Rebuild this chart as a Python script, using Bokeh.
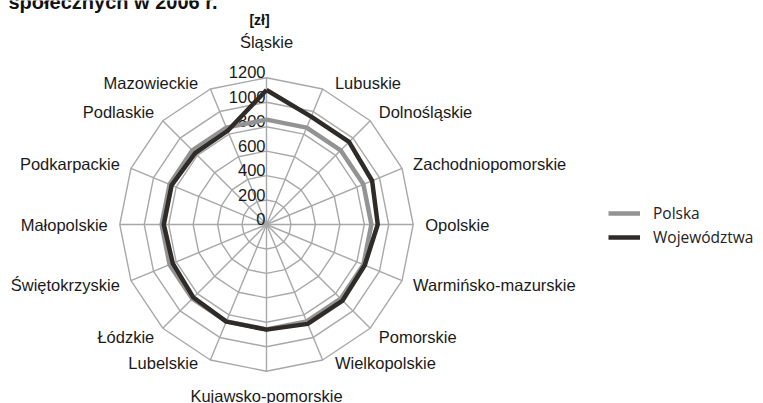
import numpy as np
from bokeh.plotting import figure
from bokeh.models import Range1d, Legend, LegendItem
from bokeh.core.properties import value
from bokeh.embed import file_html
from bokeh.resources import INLINE

# ---------------- data ----------------
categories = ["Śląskie", "Lubuskie", "Dolnośląskie", "Zachodniopomorskie", "Opolskie",
              "Warmińsko-mazurskie", "Pomorskie", "Wielkopolskie", "Kujawsko-pomorskie",
              "Lubelskie", "Łódzkie", "Świętokrzyskie", "Małopolskie", "Podkarpackie",
              "Podlaskie", "Mazowieckie"]
polska = [858, 858, 858, 858, 858, 858, 858, 858, 858, 858, 858, 858, 858, 858, 858, 858]
wojewodztwa = [1100, 955, 955, 935, 910, 870, 880, 880, 860, 860, 845, 830, 840, 840, 825, 830]
ticks = [0, 200, 400, 600, 800, 1000, 1200]
series_names = ["Polska", "Województwa"]
title_text = "społecznych w 2006 r."
unit_text = "[zł]"

# ---------------- layout ----------------
W, H = 763, 403
CX, CY = 266, 224          # centre of the radar, page pixels
RPX = 146.7                # pixel radius of the outer ring
RMAX = ticks[-1]
k = RPX / RMAX             # pixels per zł
FONT = value("Liberation Sans")

p = figure(width=W, height=H,
           x_range=Range1d(-CX / k, (W - CX) / k),
           y_range=Range1d(-(H - CY) / k, CY / k),
           output_backend="svg", toolbar_location=None, min_border=0,
           x_axis_location=None, y_axis_location=None,
           outline_line_color=None)
p.grid.visible = False
p.background_fill_color = "white"

n = len(categories)
theta = 2 * np.pi * np.arange(n) / n
sn, cs = np.sin(theta), np.cos(theta)

GRID = "#a8a8a8"
# rings
ring_xs, ring_ys = [], []
for t in ticks[1:]:
    ring_xs.append(list(np.append(t * sn, t * sn[0])))
    ring_ys.append(list(np.append(t * cs, t * cs[0])))
p.multi_line(ring_xs, ring_ys, line_color=GRID, line_width=1.4)
# spokes
p.multi_line([[0, RMAX * s] for s in sn], [[0, RMAX * c] for c in cs],
             line_color=GRID, line_width=1.4)

# tick labels along the top spoke
p.text(x=[-1 / k] * len(ticks), y=[t + 5.5 / k for t in ticks], text=[str(t) for t in ticks],
       text_align="right", text_baseline="alphabetic", text_font=FONT,
       text_font_size="16.5px", text_color="#1a1a1a")

# series
def closed(vals):
    v = np.array(vals, dtype=float)
    xs = np.append(v * sn, v[0] * sn[0])
    ys = np.append(v * cs, v[0] * cs[0])
    return xs, ys

px_, py_ = closed(polska)
r1 = p.line(px_, py_, line_color="#939393", line_width=4.5, line_join="round")
wx_, wy_ = closed(wojewodztwa)
r2 = p.line(wx_, wy_, line_color="#2e2b29", line_width=4.5, line_join="round")

# category labels
lx, ly, la, lb = [], [], [], []
for s, c in zip(sn, cs):
    if c > 0.95:
        r, align, base, dx, dy = RPX + 27, "center", "bottom", 0, 0
    elif c < -0.95:
        r, align, base, dx, dy = RPX + 16, "center", "top", 0, 0
    elif abs(c) > 0.9:
        r, align, base, dx = RPX + 6, ("left" if s > 0 else "right"), "middle", 10 * np.sign(s)
        dy = 3 if c < 0 else 0
    else:
        r, align, base, dx, dy = RPX + 12, ("left" if s > 0 else "right"), "middle", 0, 0
    lx.append((r * s + dx) / k)
    ly.append((r * c + dy) / k)
    la.append(align)
    lb.append(base)
for i in range(n):
    p.text(x=[lx[i]], y=[ly[i]], text=[categories[i]], text_align=la[i], text_baseline=lb[i],
           text_font=FONT, text_font_size="16.5px", text_color="#1a1a1a")

# title fragment and unit
p.text(x=[(8 - CX) / k], y=[(CY - 1.5) / k], text=[title_text], text_align="left",
       text_baseline="alphabetic", text_font=FONT, text_font_style="bold",
       text_font_size="20px", text_color="#111111")
p.text(x=[(259 - CX) / k], y=[(CY - 19) / k], text=[unit_text], text_align="center",
       text_baseline="middle", text_font=FONT, text_font_style="bold",
       text_font_size="14px", text_color="#111111")

legend = Legend(items=[LegendItem(label=series_names[0], renderers=[r1]),
                       LegendItem(label=series_names[1], renderers=[r2])],
                location=(608, 155), border_line_color=None, background_fill_alpha=0,
                padding=0, margin=0, spacing=2, glyph_width=32, glyph_height=20,
                label_standoff=13, label_text_font="Open Sans",
                label_text_font_size="15.5px", label_text_color="#222222")
p.add_layout(legend)

open("out.html", "w").write(file_html(p, INLINE))
